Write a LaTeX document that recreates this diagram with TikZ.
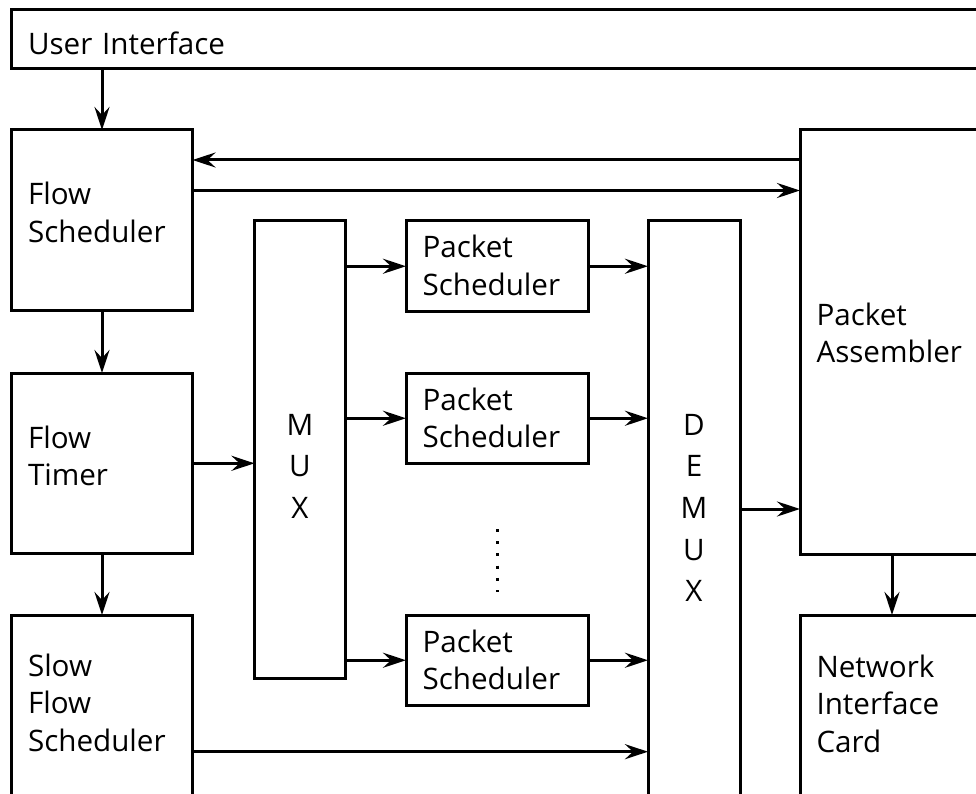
\documentclass[tikz,border=0pt]{standalone}
\usepackage{fontspec}
\setmainfont{Open Sans}
\usetikzlibrary{arrows.meta}
\begin{document}
\begin{tikzpicture}[x=1pt,y=-1pt,
  box/.style={draw, line width=3pt, rectangle, inner sep=0pt, outer sep=0pt, anchor=north west},
  txt/.style={inner sep=0pt, outer sep=0pt, anchor=base west, align=left, text width=400pt,
    font=\fontsize{29.6}{37.5}\selectfont},
  vtxt/.style={inner sep=0pt, outer sep=0pt, anchor=base, align=center, text width=40pt,
    font=\fontsize{29.6}{41.7}\selectfont},
  arr/.style={draw, line width=3pt, -{Stealth[length=23pt,width=15pt,inset=8pt]}},
  dotline/.style={draw, line width=3pt, dash pattern=on 3pt off 9.2pt}
]
\clip (0,0) rectangle (976,794);
\fill[white] (0,0) rectangle (976,794);
% boxes
\node[box, minimum width=990pt, minimum height=58.5pt] (ui) at (11.5,10) {};
\node[box, minimum width=181pt, minimum height=180pt] (fs) at (11.5,130) {};
\node[box, minimum width=181pt, minimum height=180pt] (ft) at (11.5,373) {};
\node[box, minimum width=181pt, minimum height=190pt] (sfs) at (11.5,615) {};
\node[box, minimum width=90.5pt, minimum height=457pt] (mux) at (254.5,221) {};
\node[box, minimum width=182pt, minimum height=90.5pt] (ps1) at (406,221) {};
\node[box, minimum width=182pt, minimum height=90.5pt] (ps2) at (406,373) {};
\node[box, minimum width=182pt, minimum height=90.5pt] (ps3) at (406,615) {};
\node[box, minimum width=92pt, minimum height=590pt] (demux) at (648,221) {};
\node[box, minimum width=184pt, minimum height=424pt] (pa) at (800,130) {};
\node[box, minimum width=184pt, minimum height=190pt] (nic) at (800,615) {};
% texts
\node[txt] (uit) at (28,55) {User Interface};
\node[txt] (fst) at (28,205) {Flow\\Scheduler};
\node[txt] (ftt) at (28,448) {Flow\\Timer};
\node[txt] (sfst) at (28,676) {Slow\\Flow\\Scheduler};
\node[txt] (ps1t) at (422.5,258) {Packet\\Scheduler};
\node[txt] (ps2t) at (422.5,410) {Packet\\Scheduler};
\node[txt] (ps3t) at (422.5,652) {Packet\\Scheduler};
\node[txt] (pat) at (816.5,325) {Packet\\Assembler};
\node[txt] (nict) at (816.5,677) {Network\\Interface\\Card};
\node[vtxt] (muxt) at (300,435) {M\\U\\X};
\node[vtxt] (demuxt) at (694,435) {D\\E\\M\\U\\X};
% connectors
\coordinate (y160) at (0,160);
\coordinate (y190) at (0,190.5);
\coordinate (y463) at (0,463.3);
\coordinate (y509) at (0,509);
\coordinate (y752) at (0,751.7);
\path[arr] (ui.south -| fs.north) -- (fs.north);
\path[arr] (fs.south) -- (ft.north);
\path[arr] (ft.south) -- (sfs.north);
\path[arr] (pa.west |- y160) -- (fs.east |- y160);
\path[arr] (fs.east |- y190) -- (pa.west |- y190);
\path[arr] (ft.east |- y463) -- (mux.west |- y463);
\path[arr] (mux.east |- ps1.west) -- (ps1.west);
\path[arr] (mux.east |- ps2.west) -- (ps2.west);
\path[arr] (mux.east |- ps3.west) -- (ps3.west);
\path[arr] (ps1.east) -- (demux.west |- ps1.east);
\path[arr] (ps2.east) -- (demux.west |- ps2.east);
\path[arr] (ps3.east) -- (demux.west |- ps3.east);
\path[arr] (demux.east |- y509) -- (pa.west |- y509);
\path[arr] (sfs.east |- y752) -- (demux.west |- y752);
\path[arr] (pa.south) -- (nic.north);
\coordinate (dtop) at (497,529);
\coordinate (dbot) at (497,592);
\path[dotline] (dtop) -- (dbot);
\end{tikzpicture}
\end{document}
